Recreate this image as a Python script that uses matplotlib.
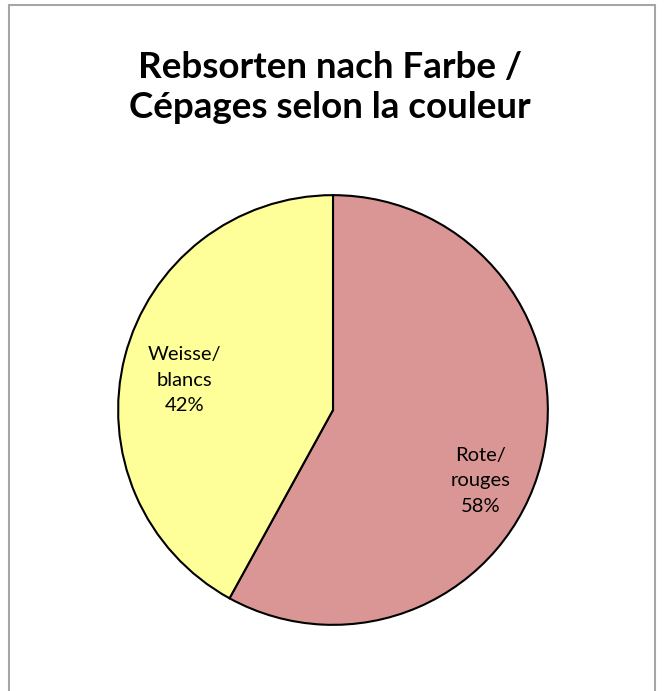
import matplotlib
matplotlib.use("Agg")
import matplotlib.pyplot as plt
from matplotlib.patches import Rectangle

labels = ["Rote/\nrouges", "Weisse/\nblancs"]
values = [58, 42]
colors = ["#D99694", "#FFFF99"]
title_lines = ["Rebsorten nach Farbe /", "Cépages selon la couleur"]

W, H = 664, 691
fig = plt.figure(figsize=(W / 100, H / 100), dpi=100)
fig.patch.set_facecolor("white")

# border
fig.add_artist(Rectangle((9 / W, -0.01), (655 - 9) / W, 1.01 - 5 / H,
                         transform=fig.transFigure, fill=False,
                         edgecolor="#A6A6A6", linewidth=1.5))

cx, cy, r = 333, 410, 217
ax = fig.add_axes([(cx - r) / W, (H - cy - r) / H, 2 * r / W, 2 * r / H])
wedges, _ = ax.pie(values, colors=colors, startangle=90, counterclock=False,
                   radius=1.0, wedgeprops=dict(edgecolor="black", linewidth=1.5))
ax.set_xlim(-1.01, 1.01)
ax.set_ylim(-1.01, 1.01)
ax.set_aspect("equal")
ax.axis("off")

label_pos = [(0.687, -0.33), (-0.69, 0.138)]
for lab, v, (x, y) in zip(labels, values, label_pos):
    ax.text(x, y, f"{lab}\n{v}%", ha="center", va="center", fontsize=14.5,
            family="Lato", linespacing=1.6, color="black")

fig.text(330 / W, 1 - 68 / H, title_lines[0], ha="center", va="center",
         fontsize=26.5, fontweight="bold", family="Lato")
fig.text(330 / W, 1 - 108 / H, title_lines[1], ha="center", va="center",
         fontsize=26.5, fontweight="bold", family="Lato")

fig.savefig("out.png", dpi=100, facecolor="white")
